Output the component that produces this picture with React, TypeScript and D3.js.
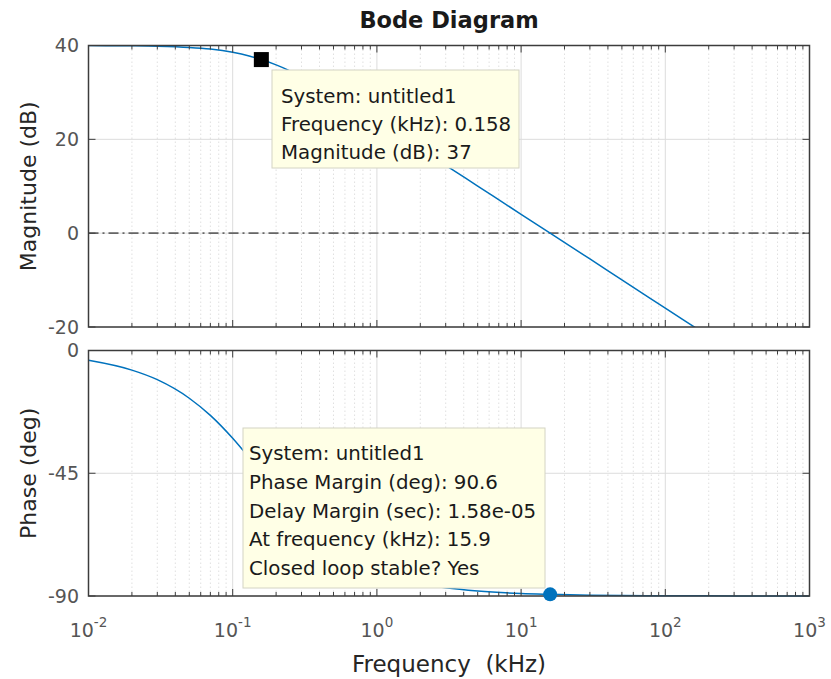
import React from "react";
import * as d3 from "d3";

// ---- data ----
const freqKHz = [0.01, 0.02, 0.03, 0.05, 0.07, 0.1, 0.13, 0.158, 0.2, 0.3, 0.5, 0.7, 1, 2, 3, 5, 10, 15.9, 30, 50, 100, 200, 500, 1000];
const magnitudeDb = [39.98, 39.93, 39.85, 39.59, 39.23, 38.55, 37.78, 37.02, 35.88, 33.41, 29.63, 26.91, 23.92, 17.98, 14.47, 10.04, 4.03, 0, -5.5, -9.95, -15.97, -21.99, -29.95, -35.97];
const phaseDeg = [-3.6, -7.2, -10.7, -17.5, -23.8, -32.2, -39.3, -44.8, -51.5, -62.1, -72.4, -77.2, -81.0, -85.5, -87.0, -88.2, -89.1, -89.4, -89.7, -89.8, -89.9, -89.95, -89.98, -89.99];

const magTicks = [40, 20, 0, -20];
const phaseTicks = [0, -45, -90];
const decadeExponents = [-2, -1, 0, 1, 2, 3];

const magMarker = [0.158, 37];
const phaseMarker = [15.9, -89.4];

const magTipLines = ["System: untitled1", "Frequency (kHz): 0.158", "Magnitude (dB): 37"];
const phaseTipLines = [
  "System: untitled1",
  "Phase Margin (deg): 90.6",
  "Delay Margin (sec): 1.58e-05",
  "At frequency (kHz): 15.9",
  "Closed loop stable? Yes",
];

const W = 831;
const H = 679;
const L = 88.5;
const R = 809.5;
const magTop = 45.5;
const magBot = 327;
const phTop = 350.5;
const phBot = 596;

const FONT = "'DejaVu Sans', sans-serif";
const BLUE = "#0072BD";
const AXIS = "#3c3c3c";
const TICKTXT = "#555555";

export default function App() {
  const x = d3.scaleLog().domain([0.01, 1000]).range([L, R]);
  const yMag = d3.scaleLinear().domain([-20, 40]).range([magBot, magTop]);
  const yPh = d3.scaleLinear().domain([-90, 0]).range([phBot, phTop]);

  const minorFreqs: number[] = [];
  decadeExponents.slice(0, -1).forEach((e) => {
    for (let k = 2; k <= 9; k++) minorFreqs.push(k * Math.pow(10, e));
  });
  const majorFreqs = decadeExponents.map((e) => Math.pow(10, e));

  const magLine = d3
    .line<number>()
    .x((_, i) => x(freqKHz[i]))
    .y((d) => yMag(d))
    .curve(d3.curveMonotoneX);
  const phLine = d3
    .line<number>()
    .x((_, i) => x(freqKHz[i]))
    .y((d) => yPh(d))
    .curve(d3.curveMonotoneX);

  const panel = (
    top: number,
    bot: number,
    yTicks: number[],
    yScale: d3.ScaleLinear<number, number>,
    id: string
  ) => (
    <g key={id}>
      {minorFreqs.map((f, i) => (
        <line key={"mg" + i} x1={x(f)} x2={x(f)} y1={top} y2={bot} stroke="#d8d8d8" strokeWidth={0.8} strokeDasharray="1.5,2.5" />
      ))}
      {majorFreqs.map((f, i) => (
        <line key={"Mg" + i} x1={x(f)} x2={x(f)} y1={top} y2={bot} stroke="#dcdcdc" strokeWidth={1} />
      ))}
      {yTicks.map((t, i) => (
        <line key={"yg" + i} x1={L} x2={R} y1={yScale(t)} y2={yScale(t)} stroke="#dcdcdc" strokeWidth={1} />
      ))}
    </g>
  );

  const frame = (top: number, bot: number, yTicks: number[], yScale: d3.ScaleLinear<number, number>, id: string) => (
    <g key={id}>
      {minorFreqs.map((f, i) => (
        <g key={"mt" + i}>
          <line x1={x(f)} x2={x(f)} y1={bot} y2={bot - 4} stroke={AXIS} strokeWidth={1} />
          <line x1={x(f)} x2={x(f)} y1={top} y2={top + 4} stroke={AXIS} strokeWidth={1} />
        </g>
      ))}
      {majorFreqs.map((f, i) => (
        <g key={"Mt" + i}>
          <line x1={x(f)} x2={x(f)} y1={bot} y2={bot - 7} stroke={AXIS} strokeWidth={1} />
          <line x1={x(f)} x2={x(f)} y1={top} y2={top + 7} stroke={AXIS} strokeWidth={1} />
        </g>
      ))}
      {yTicks.map((t, i) => (
        <g key={"yt" + i}>
          <line x1={L} x2={L + 7} y1={yScale(t)} y2={yScale(t)} stroke={AXIS} strokeWidth={1} />
          <line x1={R} x2={R - 7} y1={yScale(t)} y2={yScale(t)} stroke={AXIS} strokeWidth={1} />
          <text x={79} y={yScale(t)} dy="0.36em" textAnchor="end" fontFamily={FONT} fontSize={19} fill={TICKTXT}>
            {t}
          </text>
        </g>
      ))}
      <rect x={L} y={top} width={R - L} height={bot - top} fill="none" stroke={AXIS} strokeWidth={1.5} />
    </g>
  );

  const tooltip = (bx: number, by: number, bw: number, bh: number, tx: number, ty: number, lh: number, lines: string[], id: string) => (
    <g key={id}>
      <rect x={bx} y={by} width={bw} height={bh} fill="#ffffe6" stroke="#d4d4c4" strokeWidth={1} />
      {lines.map((s, i) => (
        <text key={i} x={tx} y={ty + i * lh} fontFamily={FONT} fontSize={19.8} fill="#1a1a1a">
          {s}
        </text>
      ))}
    </g>
  );

  return (
    <svg width={W} height={H} style={{ position: "absolute", left: 0, top: 0, background: "#fff" }}>
      <defs>
        <clipPath id="clipMag">
          <rect x={L} y={magTop} width={R - L} height={magBot - magTop} />
        </clipPath>
        <clipPath id="clipPh">
          <rect x={L} y={phTop - 2} width={R - L} height={phBot - phTop + 4} />
        </clipPath>
      </defs>
      <rect x={0} y={0} width={W} height={H} fill="#fff" />

      {panel(magTop, magBot, magTicks, yMag, "gm")}
      {panel(phTop, phBot, phaseTicks, yPh, "gp")}

      <line x1={L} x2={R} y1={yMag(0)} y2={yMag(0)} stroke="#666666" strokeWidth={1.6} strokeDasharray="10,4,2,4" />

      <path d={magLine(magnitudeDb) || ""} fill="none" stroke={BLUE} strokeWidth={1.5} clipPath="url(#clipMag)" />
      <path d={phLine(phaseDeg) || ""} fill="none" stroke={BLUE} strokeWidth={1.5} clipPath="url(#clipPh)" />

      {frame(magTop, magBot, magTicks, yMag, "fm")}
      {frame(phTop, phBot, phaseTicks, yPh, "fp")}

      {decadeExponents.map((e, i) => (
        <text key={"xl" + i} x={x(Math.pow(10, e))} y={637} textAnchor="middle" fontFamily={FONT} fontSize={19} fill={TICKTXT}>
          10
          <tspan dy={-10} fontSize={13.5}>
            {e}
          </tspan>
        </text>
      ))}

      {tooltip(272, 70, 247, 98, 281, 103, 28, magTipLines, "t1")}
      <rect x={x(magMarker[0]) - 7.5} y={yMag(magMarker[1]) - 7.5} width={15} height={15} fill="#000" />

      {tooltip(243, 428, 302, 160, 249, 460, 28.8, phaseTipLines, "t2")}
      <circle cx={x(phaseMarker[0])} cy={yPh(phaseMarker[1])} r={7} fill={BLUE} />

      <text x={(L + R) / 2} y={28} textAnchor="middle" fontFamily={FONT} fontSize={22.5} fontWeight="bold" fill="#1a1a1a">
        Bode Diagram
      </text>
      <text x={(L + R) / 2} y={672} textAnchor="middle" fontFamily={FONT} fontSize={23} fill="#262626" style={{ whiteSpace: "pre" }}>
        {"Frequency  (kHz)"}
      </text>
      <text transform={`translate(36,${(magTop + magBot) / 2}) rotate(-90)`} textAnchor="middle" fontFamily={FONT} fontSize={22} fill="#262626">
        Magnitude (dB)
      </text>
      <text transform={`translate(36,${(phTop + phBot) / 2}) rotate(-90)`} textAnchor="middle" fontFamily={FONT} fontSize={22} fill="#262626">
        Phase (deg)
      </text>
    </svg>
  );
}
